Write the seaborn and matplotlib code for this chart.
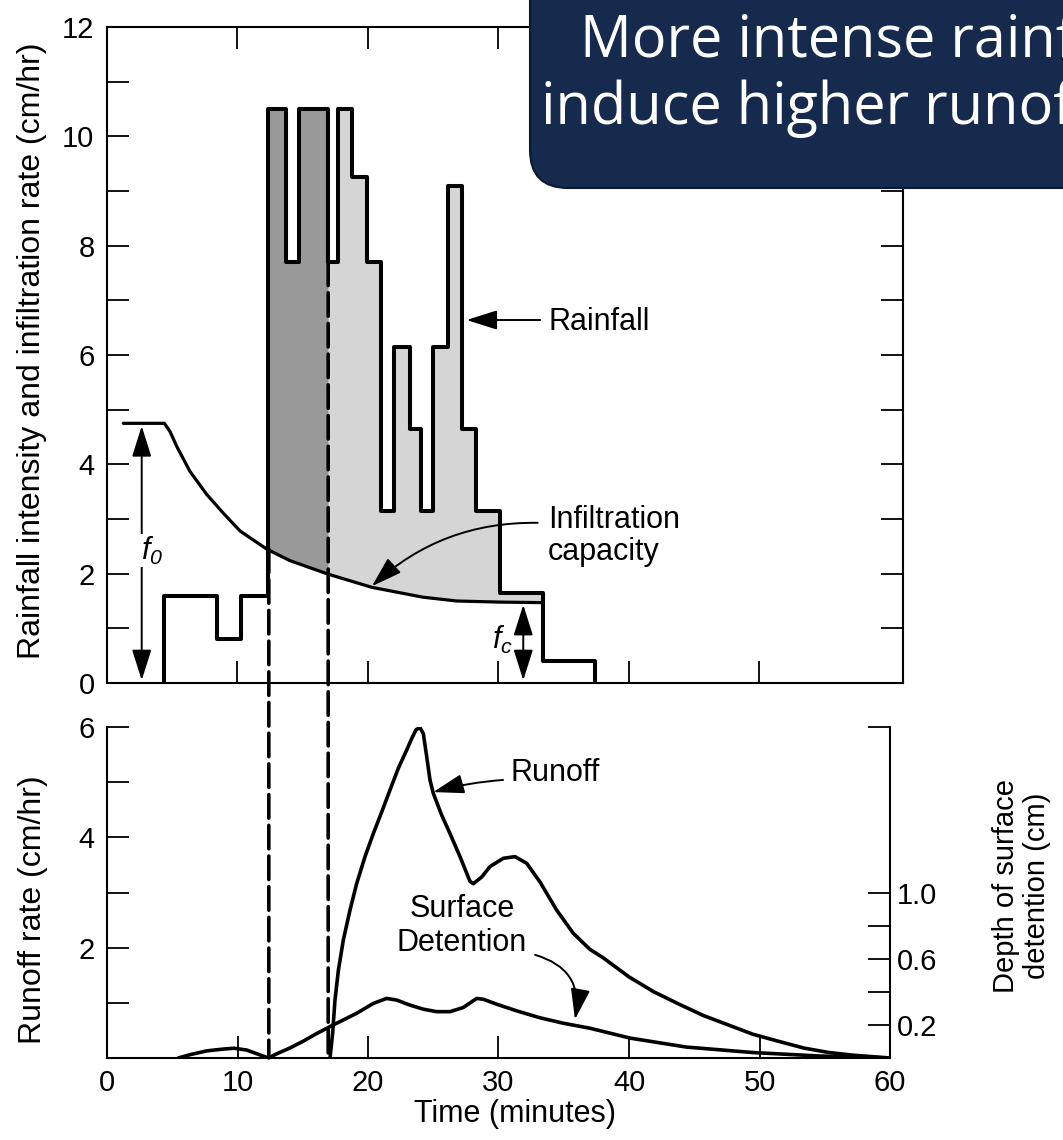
import numpy as np
import matplotlib
matplotlib.use("Agg")
import matplotlib.pyplot as plt
import seaborn as sns
from matplotlib.patches import ConnectionPatch, FancyBboxPatch
from matplotlib.ticker import FixedLocator, MultipleLocator

# ---------------- data ----------------
rain_edges = [4.4, 8.4, 10.3, 12.3, 13.7, 14.7, 16.9, 17.7, 18.8, 19.9, 21.0,
              22.0, 23.2, 24.1, 25.0, 26.1, 27.2, 28.3, 30.1, 33.4, 37.4]
rain_values = [1.6, 0.8, 1.6, 10.5, 7.7, 10.5, 7.7, 10.5, 9.25, 7.7, 3.15,
               6.15, 4.65, 3.15, 6.15, 9.1, 4.65, 3.15, 1.65, 0.4]

inf_time = [1.25, 4.4, 4.83, 5.34, 6.36, 7.64, 8.9, 10.2, 12.24, 14.0, 16.96,
            20.3, 24.2, 26.8, 30.1, 33.4]
inf_rate = [4.75, 4.75, 4.6, 4.33, 3.87, 3.45, 3.11, 2.78, 2.45, 2.24, 1.99,
            1.75, 1.57, 1.50, 1.48, 1.47]

runoff_time = [17.1, 17.29, 17.47, 17.73, 18.11, 18.62, 19.13, 19.77, 20.41,
               21.05, 21.69, 22.32, 22.96, 23.35, 23.68, 23.98, 24.24, 24.5,
               24.75, 25.0, 25.65, 26.28, 27.05, 27.82, 28.07, 28.71, 29.35,
               30.37, 31.26, 32.16, 33.18, 34.46, 35.73, 37.0, 38.0, 40.0, 41.9,
               43.8, 45.7, 47.6, 49.5, 51.5, 53.4, 55.3, 57.2, 60.0]
runoff_rate = [0.02, 0.45, 1.05, 1.59, 2.14, 2.68, 3.16, 3.65, 4.07, 4.46, 4.86,
               5.25, 5.58, 5.79, 5.95, 5.99, 5.88, 5.46, 5.04, 4.8, 4.4, 4.07,
               3.65, 3.2, 3.16, 3.28, 3.47, 3.62, 3.65, 3.53, 3.19, 2.68, 2.26,
               1.97, 1.82, 1.47, 1.2, 0.98, 0.77, 0.6, 0.43, 0.3, 0.18, 0.1,
               0.05, 0.0]

det_time = [5.47, 6.36, 7.64, 8.92, 9.73, 10.7, 11.47, 12.36, 13.0, 14.0, 15.0,
            16.0, 17.09, 18.11, 19.13, 20.41, 21.43, 22.2, 23.2, 24.24, 25.26,
            26.28, 27.3, 28.33, 28.84, 29.86, 31.39, 33.18, 34.97, 37.0, 40.1,
            44.4, 49.5, 54.6, 60.0]
det_depth = [0.0, 0.02, 0.043, 0.054, 0.059, 0.048, 0.026, 0.0, 0.025, 0.06,
             0.1, 0.145, 0.19, 0.23, 0.27, 0.33, 0.36, 0.35, 0.32, 0.295, 0.28,
             0.28, 0.305, 0.36, 0.355, 0.325, 0.285, 0.243, 0.21, 0.18, 0.12,
             0.066, 0.033, 0.012, 0.0]

f0_value = 4.75
fc_value = 1.48
split_times = [12.4, 16.95]
split_tops = [2.45, 7.7]

top_yticks = [0, 2, 4, 6, 8, 10, 12]
x_ticks = [0, 10, 20, 30, 40, 50, 60]
runoff_yticks = [2, 4, 6]
det_yticks = [0.2, 0.4, 0.6, 0.8, 1.0, 2.0]
det_ylabels = ["0.2", "", "0.6", "", "1.0", ""]

title_lines = ["More intense rainfall", "induce higher runoff"]

# ---------------- style ----------------
sns.set_theme(style="ticks")
plt.rcParams["font.family"] = ["Liberation Sans", "DejaVu Sans"]
plt.rcParams["mathtext.fontset"] = "custom"
plt.rcParams["mathtext.it"] = "Liberation Sans:italic"
plt.rcParams["mathtext.rm"] = "Liberation Sans:italic"
plt.rcParams["axes.linewidth"] = 1.5
plt.rcParams["axes.edgecolor"] = "black"
plt.rcParams["text.color"] = "black"
plt.rcParams["axes.labelcolor"] = "black"
plt.rcParams["xtick.color"] = "black"
plt.rcParams["ytick.color"] = "black"

W, H = 1063, 1140
fig = plt.figure(figsize=(W / 100, H / 100), dpi=100)
fig.patch.set_facecolor("white")


def fx(px):
    return px / W


def fy(py):
    return 1 - py / H


ax1 = fig.add_axes([fx(107), fy(683), (903 - 107) / W, (683 - 27) / H])
ax2 = fig.add_axes([fx(107), fy(1058), (890 - 107) / W, (1058 - 727) / H])
ax3 = ax2.twinx()

TICK_FS = 21
LAB_FS = 23
ANN_FS = 22
tick_kw = dict(direction="in", length=16, width=1.3, colors="black")

# ---------------- top panel ----------------
e = np.asarray(rain_edges)
v = np.asarray(rain_values)


def rain_at(t):
    idx = np.clip(np.searchsorted(e, t, side="right") - 1, 0, len(v) - 1)
    return v[idx]


t_dark = np.linspace(e[3], split_times[1], 800)
ax1.fill_between(t_dark, np.interp(t_dark, inf_time, inf_rate), rain_at(t_dark),
                 color="#999999", lw=0, zorder=1)
t_light = np.linspace(split_times[1], e[-2] - 1e-6, 2500)
ax1.fill_between(t_light, np.interp(t_light, inf_time, inf_rate), rain_at(t_light),
                 color="#d5d5d5", lw=0, zorder=1)

ox = np.repeat(e, 2)
oy = np.concatenate([[0], np.repeat(v, 2), [0]])
sns.lineplot(x=ox, y=oy, ax=ax1, estimator=None, sort=False, color="black",
             lw=2.9, zorder=3)
sns.lineplot(x=inf_time, y=inf_rate, ax=ax1, estimator=None, sort=False,
             color="black", lw=2.3, zorder=3)

ax1.set_xlim(0, 61)
ax1.set_ylim(0, 12)
ax1.xaxis.set_major_locator(FixedLocator([10, 20, 30, 40, 50]))
ax1.set_xticklabels([])
ax1.yaxis.set_major_locator(FixedLocator(top_yticks))
ax1.yaxis.set_minor_locator(MultipleLocator(1))
ax1.tick_params(axis="both", which="both", top=True, right=True, **tick_kw)
ax1.tick_params(axis="y", which="major", labelsize=TICK_FS, pad=9)
ax1.set_ylabel("Rainfall intensity and infiltration rate (cm/hr)", fontsize=LAB_FS)
ax1.yaxis.set_label_coords(-0.076, (683 - 351) / 656)
ax1.set_xlabel("")

arrow_kw = dict(arrowstyle="-|>,head_length=1.9,head_width=0.6", color="black",
                lw=1.4, shrinkA=0, shrinkB=0, mutation_scale=10)
darrow_kw = dict(arrowstyle="<|-|>,head_length=1.9,head_width=0.6", color="black",
                 lw=1.4, shrinkA=0, shrinkB=0, mutation_scale=10)

# f0 and fc
ax1.annotate("", xy=(2.66, 0.05), xytext=(2.66, f0_value - 0.05), arrowprops=darrow_kw)
ax1.text(3.45, 2.42, r"$f_0$", fontsize=ANN_FS, ha="center", va="center",
         bbox=dict(fc="white", ec="none", pad=0.5), zorder=4)
ax1.annotate("", xy=(31.9, 0.05), xytext=(31.9, fc_value - 0.05), arrowprops=darrow_kw)
ax1.text(30.3, 0.78, r"$f_c$", fontsize=ANN_FS, ha="center", va="center", zorder=4)

# labels
ax1.annotate("", xy=(27.55, 6.64), xytext=(33.2, 6.64), arrowprops=arrow_kw)
ax1.text(33.8, 6.6, "Rainfall", fontsize=ANN_FS, ha="left", va="center")
ax1.annotate("", xy=(20.3, 1.77), xytext=(33.0, 2.93),
             arrowprops=dict(arrow_kw, connectionstyle="arc3,rad=0.2"))
ax1.text(33.8, 2.69, "Infiltration\ncapacity", fontsize=ANN_FS, ha="left",
         va="center", linespacing=1.1)

# ---------------- bottom panel ----------------
sns.lineplot(x=runoff_time, y=runoff_rate, ax=ax2, estimator=None, sort=False,
             color="black", lw=2.6, zorder=3)
sns.lineplot(x=det_time, y=det_depth, ax=ax3, estimator=None, sort=False,
             color="black", lw=2.6, zorder=3)

ax2.set_xlim(0, 60)
ax2.set_ylim(0, 6)
ax3.set_ylim(0, 2.0)
ax2.xaxis.set_major_locator(FixedLocator(x_ticks))
ax2.set_xticklabels([str(t) for t in x_ticks])
ax2.yaxis.set_major_locator(FixedLocator(runoff_yticks))
ax2.yaxis.set_minor_locator(MultipleLocator(1))
ax2.tick_params(axis="both", which="both", **tick_kw)
ax2.tick_params(axis="both", which="major", labelsize=TICK_FS)
ax2.tick_params(axis="x", pad=8)
ax2.tick_params(axis="y", pad=9)
ax2.spines["top"].set_visible(False)
ax2.spines["right"].set_visible(False)
ax3.spines["top"].set_visible(False)
ax3.spines["left"].set_visible(False)
ax3.spines["bottom"].set_visible(False)
ax3.yaxis.set_major_locator(FixedLocator(det_yticks))
ax3.set_yticklabels(det_ylabels)
ax3.tick_params(axis="y", which="both", labelsize=TICK_FS, pad=5, **tick_kw)

ax2.set_xlabel("Time (minutes)", fontsize=ANN_FS)
ax2.xaxis.set_label_coords((515 - 107) / 783, -0.125)
ax2.set_ylabel("Runoff rate (cm/hr)", fontsize=LAB_FS)
ax2.yaxis.set_label_coords(-0.0754, (1058 - 910) / 331)
ax3.set_ylabel("Depth of surface\ndetention (cm)", fontsize=21, linespacing=1.15)
ax3.yaxis.set_label_coords((992 - 107) / 783, (1058 - 886) / 331)

ax2.annotate("", xy=(25.0, 4.82), xytext=(30.35, 5.04),
             arrowprops=dict(arrow_kw, connectionstyle="arc3,rad=0.05"))
ax2.text(30.9, 5.16, "Runoff", fontsize=ANN_FS, ha="left", va="center")
ax2.text(27.2, 2.39, "Surface\nDetention", fontsize=ANN_FS, ha="center",
         va="center", linespacing=1.2)
ax2.annotate("", xy=(35.86, 0.7), xytext=(32.8, 1.87),
             arrowprops=dict(arrow_kw, connectionstyle="arc3,rad=-0.45"))

# dashed separators spanning both panels
for t, top in zip(split_times, split_tops):
    con = ConnectionPatch(xyA=(t, top), coordsA=ax1.transData,
                          xyB=(t, 0), coordsB=ax2.transData,
                          color="black", lw=2.6, linestyle=(0, (6.5, 2.0)),
                          zorder=5)
    fig.add_artist(con)

# ---------------- title box ----------------
box = FancyBboxPatch((5.30, (H - 188) / 100), 6.0, 3.0,
                     boxstyle="round,pad=0,rounding_size=0.38",
                     transform=fig.dpi_scale_trans, fc="#152a4c", ec="#0c1932",
                     lw=1.5, zorder=10)
fig.add_artist(box)
fig.text(fx(580), fy(57), title_lines[0], color="white", fontsize=41.5,
         family=["Open Sans", "DejaVu Sans"], ha="left", va="baseline", zorder=11)
fig.text(fx(541), fy(124), title_lines[1], color="white", fontsize=41.5,
         family=["Open Sans", "DejaVu Sans"], ha="left", va="baseline", zorder=11)

fig.savefig("out.png", dpi=100)
